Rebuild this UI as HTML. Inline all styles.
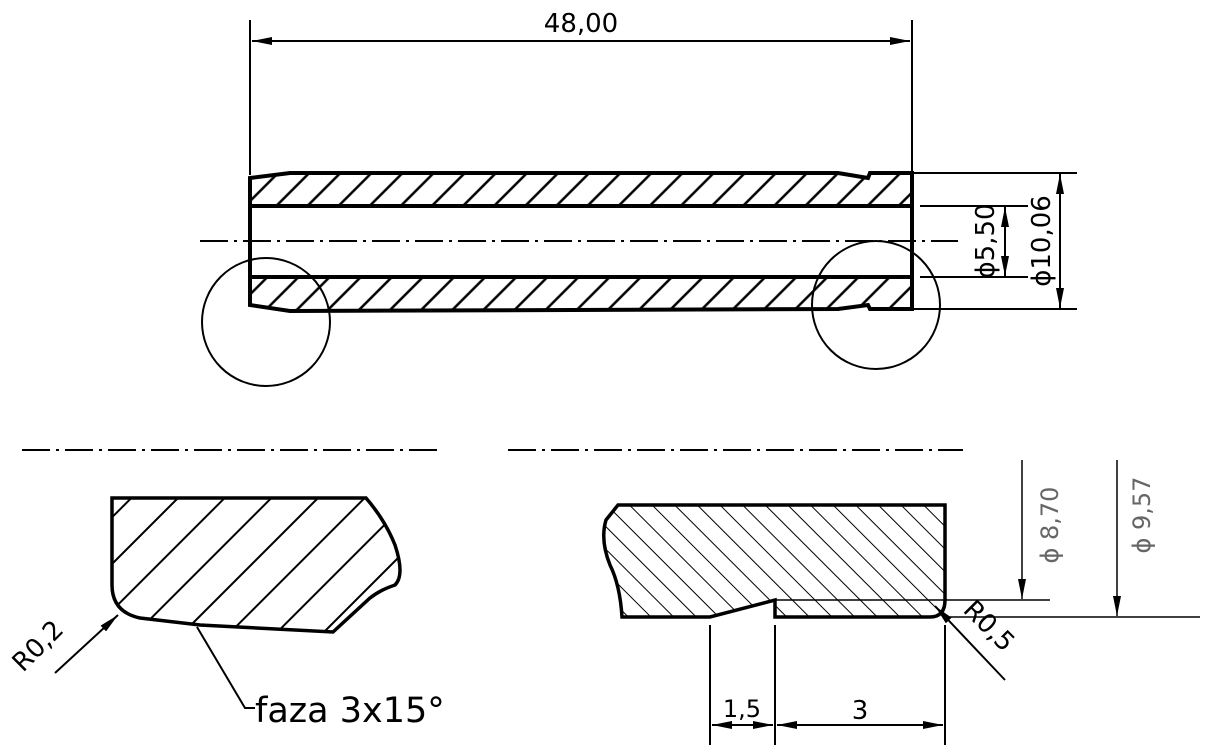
<!DOCTYPE html>
<html><head><meta charset="utf-8"><style>html,body{margin:0;padding:0;background:#fff}svg{display:block}text{font-family:"DejaVu Sans","Liberation Sans",sans-serif}</style></head><body>
<svg width="1218" height="756" viewBox="0 0 1218 756" xmlns="http://www.w3.org/2000/svg">
<defs>
<marker id="a" viewBox="0 0 20 8" refX="20" refY="4" markerWidth="20" markerHeight="8" markerUnits="userSpaceOnUse" orient="auto-start-reverse"><path d="M0,0L20,4L0,8z" fill="#000"/></marker>
<pattern id="h1" patternUnits="userSpaceOnUse" width="22" height="22" patternTransform="rotate(45)"><line x1="11" y1="0" x2="11" y2="22" stroke="#000" stroke-width="2.5"/></pattern>
<pattern id="h2" patternUnits="userSpaceOnUse" width="33" height="33" patternTransform="rotate(45)"><line x1="16" y1="0" x2="16" y2="33" stroke="#000" stroke-width="2"/></pattern>
<pattern id="h3" patternUnits="userSpaceOnUse" width="16" height="16" patternTransform="rotate(-45)"><line x1="8" y1="0" x2="8" y2="16" stroke="#000" stroke-width="1"/></pattern>
</defs>
<g fill="none" stroke="#000">
<path d="M250,178 L290,173 L838,173 L868,178 L870,173 L912,173 L912,206 L250,206 Z" fill="url(#h1)" stroke="none"/>
<path d="M250,277 L912,277 L912,309 L870,309 L868,305 L838,309 L290,311 L250,305 Z" fill="url(#h1)" stroke="none"/>
<path d="M250,178 L290,173 L838,173 L868,178 L870,173 L912,173 L912,309 L870,309 L868,305 L838,309 L290,311 L250,305 Z" stroke-width="4"/>
<line x1="250" y1="206" x2="912" y2="206" stroke-width="4"/>
<line x1="250" y1="277" x2="912" y2="277" stroke-width="4"/>
<line x1="200" y1="241" x2="958" y2="241" stroke-width="2" stroke-dasharray="28,6,3,6"/>
<circle cx="266" cy="322" r="64" stroke-width="2"/>
<circle cx="876" cy="305" r="64" stroke-width="2"/>
<line x1="250" y1="20" x2="250" y2="175" stroke-width="2"/>
<line x1="912" y1="20" x2="912" y2="173" stroke-width="2"/>
<line x1="252" y1="41" x2="910" y2="41" stroke-width="2" marker-start="url(#a)" marker-end="url(#a)"/>
<line x1="912" y1="173" x2="1077" y2="173" stroke-width="2"/>
<line x1="912" y1="309" x2="1077" y2="309" stroke-width="2"/>
<line x1="920" y1="206" x2="1028" y2="206" stroke-width="2"/>
<line x1="920" y1="277" x2="1028" y2="277" stroke-width="2"/>
<line x1="1005" y1="207" x2="1005" y2="276" stroke-width="2" marker-start="url(#a)" marker-end="url(#a)"/>
<line x1="1060" y1="174" x2="1060" y2="308" stroke-width="2" marker-start="url(#a)" marker-end="url(#a)"/>
<line x1="22" y1="450" x2="438" y2="450" stroke-width="2" stroke-dasharray="28,6,3,6"/>
<path d="M112,498 L366,498 Q385,520 395,545 Q405,575 395,585 Q380,590 370,598 L333,632 L200,625 L140,618 Q112,612 112,585 Z" fill="url(#h2)" stroke-width="3.5"/>
<line x1="55" y1="673" x2="118" y2="615" stroke-width="2" marker-end="url(#a)"/>
<polyline points="197,627 245,708 255,708" stroke-width="2"/>
<line x1="508" y1="450" x2="963" y2="450" stroke-width="2" stroke-dasharray="28,6,3,6"/>
<path d="M618,505 L945,505 L945,600 Q945,617 930,617 L775,617 L775,600 L710,617 L622,617 Q620,585 610,565 Q600,540 606,520 Z" fill="url(#h3)" stroke-width="3.5"/>
<line x1="775" y1="600" x2="1050" y2="600" stroke-width="1.5"/>
<line x1="945" y1="617" x2="1200" y2="617" stroke-width="1.5"/>
<line x1="1022" y1="460" x2="1022" y2="599" stroke-width="1.5" marker-end="url(#a)"/>
<line x1="1117" y1="460" x2="1117" y2="616" stroke-width="1.5" marker-end="url(#a)"/>
<line x1="1005" y1="680" x2="935" y2="606" stroke-width="2" marker-end="url(#a)"/>
<line x1="710" y1="625" x2="710" y2="745" stroke-width="2"/>
<line x1="775" y1="625" x2="775" y2="745" stroke-width="2"/>
<line x1="945" y1="625" x2="945" y2="745" stroke-width="2"/>
<line x1="712" y1="725" x2="773" y2="725" stroke-width="2" marker-start="url(#a)" marker-end="url(#a)"/>
<line x1="777" y1="725" x2="943" y2="725" stroke-width="2" marker-start="url(#a)" marker-end="url(#a)"/>
</g>
<g fill="#000">
<text x="581" y="32" font-size="26" text-anchor="middle">48,00</text>
<text transform="translate(994,241) rotate(-90)" font-size="26" text-anchor="middle">ϕ5,50</text>
<text transform="translate(1050,241) rotate(-90)" font-size="26" text-anchor="middle">ϕ10,06</text>
<text x="255" y="722" font-size="35">faza 3x15°</text>
<text transform="translate(44,652) rotate(-45)" font-size="26" text-anchor="middle">R0,2</text>
<text transform="translate(983,632) rotate(45)" font-size="26" text-anchor="middle">R0,5</text>
<text x="742" y="717" font-size="24" text-anchor="middle">1,5</text>
<text x="860" y="719" font-size="26" text-anchor="middle">3</text>
<text transform="translate(1058,525) rotate(-90)" font-size="24" text-anchor="middle" fill="#666">ϕ 8,70</text>
<text transform="translate(1150,515) rotate(-90)" font-size="24" text-anchor="middle" fill="#666">ϕ 9,57</text>
</g>
</svg>
</body></html>
